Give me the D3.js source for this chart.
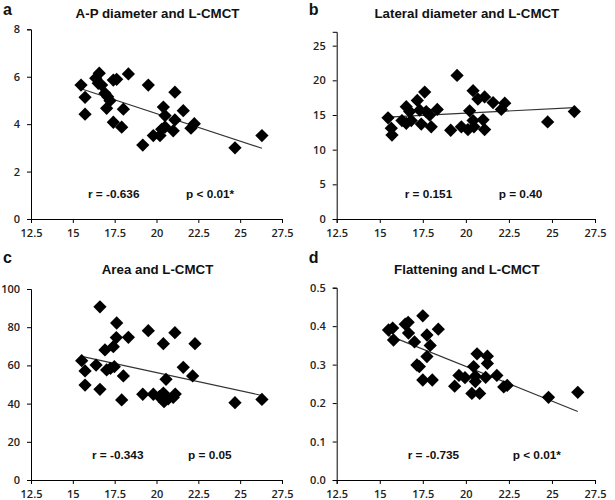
<!DOCTYPE html>
<html>
<head>
<meta charset="utf-8">
<script src="https://cdn.jsdelivr.net/npm/d3@7"></script>
<style>
  body { margin: 0; background: #fff; }
  .tick text { font-family: "Open Sans", sans-serif; font-size: 11px; font-weight: 600; fill: #222; }
  .title, .stat, .letter { font-family: "Liberation Sans", Arial, sans-serif; font-weight: bold; fill: #111; }
</style>
</head>
<body>
<div id="chart"></div>
<script>
// L-CMCT (x) against each cervical cord measure (y)
const xTicks = [12.5, 15, 17.5, 20, 22.5, 25, 27.5];

const apData = [[15.49,5.65],[15.73,5.13],[15.73,4.42],[16.37,5.94],[16.58,6.15],[16.52,5.72],[16.72,5.65],
  [16.92,5.30],[17.08,5.16],[17.22,4.99],[17.02,4.67],[17.42,5.86],[17.62,5.89],[17.42,4.08],[17.92,3.87],
  [18.02,4.63],[18.32,6.12],[19.18,3.12],[19.51,5.65],[19.81,3.52],[20.21,3.52],[20.31,3.78],[20.41,4.72],
  [20.51,4.36],[20.51,3.88],[21.0,3.72],[21.1,5.35],[21.1,4.18],[21.6,4.57],[22.06,3.83],[22.26,4.02],
  [24.69,3.0],[26.3,3.52]];

const latData = [[15.48,14.6],[15.67,13.1],[15.71,12.1],[16.29,14.2],[16.54,16.2],[16.54,13.8],[16.83,14.2],
  [16.74,15.5],[17.18,17.1],[17.61,18.3],[17.32,15.7],[17.41,13.7],[17.7,15.5],[17.99,13.3],[17.9,15.0],
  [18.34,15.8],[19.12,12.8],[19.49,20.7],[19.74,13.3],[20.22,15.6],[20.12,12.9],[20.42,18.5],[20.42,14.2],
  [20.47,13.3],[20.7,17.3],[21.09,17.6],[21.0,14.3],[21.09,12.9],[21.58,16.8],[22.06,15.8],[22.26,16.7],
  [24.75,14.0],[26.3,15.5]];

const areaData = [[15.53,62.5],[15.73,57.1],[15.73,49.7],[16.39,60.2],[16.62,90.7],[16.62,47.5],[16.92,68.1],
  [17.02,57.6],[17.25,58.5],[17.42,69.8],[17.48,59.3],[17.6,74.6],[17.62,82.2],[18.02,54.5],[17.92,41.9],
  [18.32,74.7],[19.18,44.9],[19.51,78.2],[19.81,44.9],[20.17,43.6],[20.41,71.4],[20.41,45.5],[20.45,41.0],
  [20.57,52.7],[20.7,42.5],[21.0,43.2],[21.1,77.1],[21.12,45.0],[21.6,59.0],[22.16,54.5],[22.3,71.4],
  [24.69,40.5],[26.3,42.2]];

const flatData = [[15.51,0.390],[15.75,0.395],[15.8,0.364],[16.48,0.405],[16.65,0.410],[16.67,0.382],[17.02,0.359],
  [17.16,0.299],[17.3,0.295],[17.5,0.427],[17.74,0.377],[17.74,0.321],[17.93,0.350],[18.4,0.392],[17.5,0.260],
  [18.05,0.260],[19.35,0.244],[19.6,0.272],[19.95,0.266],[20.45,0.295],[20.55,0.270],[20.55,0.256],[20.65,0.328],
  [21.25,0.322],[21.25,0.303],[21.15,0.267],[20.35,0.225],[20.8,0.225],[21.8,0.272],[22.2,0.242],[22.4,0.246],
  [24.8,0.215],[26.5,0.228]];

const panels = [
  {letter: "a", title: "A-P diameter and L-CMCT", data: apData, yMax: 8, yTicks: [0,2,4,6,8], fmt: d3.format("d"),
   r: "r = -0.636", p: "p < 0.01*", x0: 31, x1: 282, yTop: 29.3, yBot: 219, rX: 57, pX: 155},
  {letter: "b", title: "Lateral diameter and L-CMCT", data: latData, yMax: 27, yTicks: [0,5,10,15,20,25], fmt: d3.format("d"),
   r: "r = 0.151", p: "p = 0.40", x0: 336.7, x1: 595, yTop: 31.8, yBot: 219, rX: 68, pX: 162},
  {letter: "c", title: "Area and L-CMCT", data: areaData, yMax: 100, yTicks: [0,20,40,60,80,100], fmt: d3.format("d"),
   r: "r = -0.343", p: "p = 0.05", x0: 31, x1: 282, yTop: 289, yBot: 480, rX: 61, pX: 157},
  {letter: "d", title: "Flattening and L-CMCT", data: flatData, yMax: 0.5, yTicks: [0,0.1,0.2,0.3,0.4,0.5], fmt: d3.format(".1f"),
   r: "r = -0.735", p: "p < 0.01*", x0: 336.7, x1: 595, yTop: 287.7, yBot: 480, rX: 71, pX: 176}
];

const svg = d3.select("#chart").append("svg")
    .attr("width", 615)
    .attr("height", 500)
    .style("background", "#fff");

const diamond = d3.symbol().type(d3.symbolSquare).size(88);

panels.forEach(function(pn) {
    const x = d3.scaleLinear().domain([12.5, 27.5]).range([pn.x0, pn.x1]);
    const y = d3.scaleLinear().domain([0, pn.yMax]).range([pn.yBot, pn.yTop]);
    const g = svg.append("g");

    const left = pn.x0 - 28;
    g.append("text").attr("class", "letter")
        .attr("x", left).attr("y", pn.yBot < 300 ? 14.5 : 263)
        .style("font-size", "16px")
        .text(pn.letter);

    g.append("text").attr("class", "title")
        .attr("x", (pn.x0 + pn.x1) / 2 + 1).attr("y", pn.yBot < 300 ? 18 : 274)
        .attr("text-anchor", "middle")
        .style("font-size", "13.3px")
        .text(pn.title);

    g.append("g")
        .attr("transform", "translate(0," + pn.yBot + ")")
        .call(d3.axisBottom(x).tickValues(xTicks).tickFormat(d => String(d)).tickSizeOuter(0).tickSize(4).tickPadding(6))
        .call(s => s.selectAll("line, path").attr("stroke", "#000"));

    g.append("g")
        .attr("transform", "translate(" + pn.x0 + ",0)")
        .call(d3.axisLeft(y).tickValues(pn.yTicks).tickFormat(pn.fmt).tickSizeOuter(0).tickSize(4).tickPadding(7))
        .call(s => s.selectAll("line, path").attr("stroke", "#000"));

    // least squares trend line across the data range
    const mx = d3.mean(pn.data, d => d[0]), my = d3.mean(pn.data, d => d[1]);
    const slope = d3.sum(pn.data, d => (d[0] - mx) * (d[1] - my)) / d3.sum(pn.data, d => (d[0] - mx) * (d[0] - mx));
    const ext = d3.extent(pn.data, d => d[0]);
    g.append("line")
        .attr("x1", x(ext[0])).attr("y1", y(my + slope * (ext[0] - mx)))
        .attr("x2", x(ext[1])).attr("y2", y(my + slope * (ext[1] - mx)))
        .attr("stroke", "#333")
        .attr("stroke-width", 1.2);

    g.selectAll(".pt")
        .data(pn.data)
        .enter()
        .append("path")
        .attr("class", "pt")
        .attr("d", diamond)
        .attr("transform", d => "translate(" + x(d[0]) + "," + y(d[1]) + ") rotate(45)")
        .attr("fill", "#000");

    const sy = pn.yBot - 21.5;
    g.append("text").attr("class", "stat")
        .attr("x", pn.x0 + pn.rX).attr("y", sy)
        .style("font-size", "11.8px")
        .text(pn.r);
    g.append("text").attr("class", "stat")
        .attr("x", pn.x0 + pn.pX).attr("y", sy)
        .style("font-size", "11.8px")
        .text(pn.p);
});
</script>
</body>
</html>
